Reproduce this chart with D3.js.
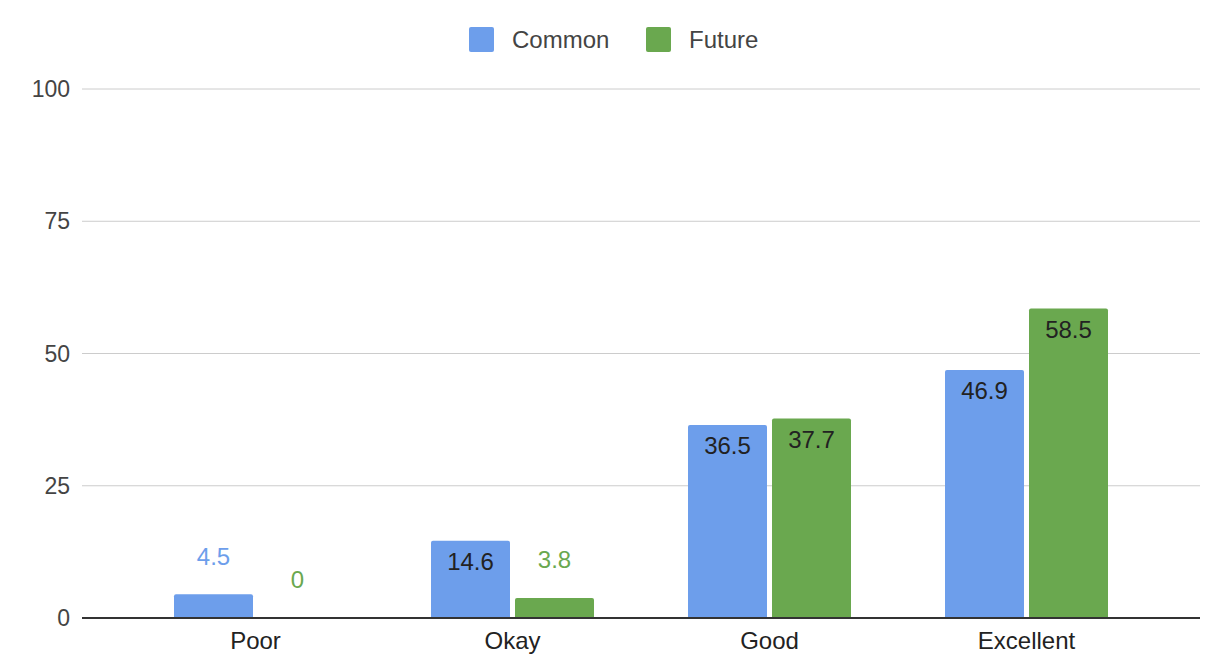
<!DOCTYPE html>
<html>
<head>
<meta charset="utf-8">
<script src="https://cdn.jsdelivr.net/npm/d3@7"></script>
<style>
  body { margin: 0; background: #fff; }
  svg { display: block; font-family: "Liberation Sans", Arial, sans-serif; }
</style>
</head>
<body>
<svg id="chart" width="1213" height="656"></svg>
<script>
const categories = ["Poor", "Okay", "Good", "Excellent"];
const seriesNames = ["Common", "Future"];
const commonValues = [4.5, 14.6, 36.5, 46.9];
const futureValues = [0, 3.8, 37.7, 58.5];
const yTicks = [0, 25, 50, 75, 100];
const colors = ["#6d9eeb", "#6aa84f"];

const svg = d3.select("#chart");

const x = d3.scaleBand().domain(categories).range([127, 1155]).padding(0);
const barW = 79, gap = 5;
const y = d3.scaleLinear().domain([0, 100]).range([618, 89]);

// gridlines
svg.append("g").selectAll("line")
  .data(yTicks.filter(d => d !== 0))
  .enter().append("line")
  .attr("x1", 82).attr("x2", 1200)
  .attr("y1", d => y(d)).attr("y2", d => y(d))
  .attr("stroke", "#cccccc").attr("stroke-width", 1);

// y tick labels
svg.append("g").selectAll("text")
  .data(yTicks)
  .enter().append("text")
  .attr("x", 70).attr("y", d => y(d))
  .attr("dy", "0.35em")
  .attr("text-anchor", "end")
  .attr("font-size", 23)
  .attr("fill", "#444")
  .text(d => d);

const rows = categories.map((c, i) => ({ cat: c, vals: [commonValues[i], futureValues[i]] }));

rows.forEach(row => {
  const cx = x(row.cat) + x.bandwidth() / 2;
  row.vals.forEach((v, s) => {
    const left = s === 0 ? cx - gap / 2 - barW : cx + gap / 2;
    const top = y(v);
    const h = y(0) - top;
    if (h > 0) {
      svg.append("path")
        .attr("d", `M${left},${y(0)} V${top + 2} Q${left},${top} ${left + 2},${top} H${left + barW - 2} Q${left + barW},${top} ${left + barW},${top + 2} V${y(0)} Z`)
        .attr("fill", colors[s]);
    }
    const inside = h > 40;
    svg.append("text")
      .attr("x", left + barW / 2)
      .attr("y", inside ? top + 21 : top - 38)
      .attr("dy", "0.35em")
      .attr("text-anchor", "middle")
      .attr("font-size", 24)
      .attr("fill", inside ? "#222" : colors[s])
      .text(v);
  });
});

// baseline
svg.append("line")
  .attr("x1", 82).attr("x2", 1200)
  .attr("y1", y(0)).attr("y2", y(0))
  .attr("stroke", "#333").attr("stroke-width", 2);

// x axis labels
svg.append("g").selectAll("text")
  .data(categories)
  .enter().append("text")
  .attr("x", d => x(d) + x.bandwidth() / 2)
  .attr("y", 641)
  .attr("dy", "0.35em")
  .attr("text-anchor", "middle")
  .attr("font-size", 24)
  .attr("fill", "#222")
  .text(d => d);

// legend
const legendX = [469, 646];
seriesNames.forEach((name, i) => {
  svg.append("rect")
    .attr("x", legendX[i]).attr("y", 27)
    .attr("width", 25).attr("height", 25)
    .attr("rx", 2)
    .attr("fill", colors[i]);
  svg.append("text")
    .attr("x", legendX[i] + 43).attr("y", 39.5)
    .attr("dy", "0.35em")
    .attr("font-size", 24)
    .attr("fill", "#444")
    .text(name);
});
</script>
</body>
</html>
